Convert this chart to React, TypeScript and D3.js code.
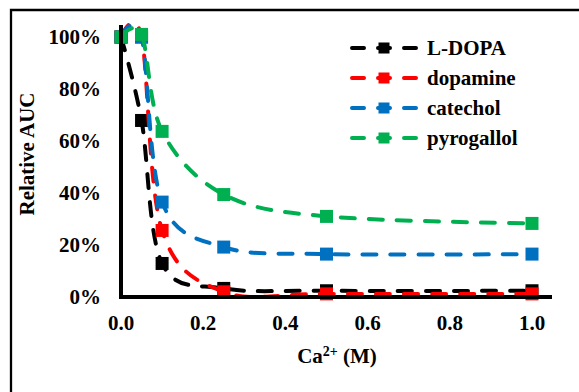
import React from "react";
import * as d3 from "d3";

const concentrations = [0, 0.05, 0.1, 0.25, 0.5, 1.0];
const ldopa = [1.0, 0.679, 0.129, 0.033, 0.024, 0.024];
const dopamine = [1.0, 1.0, 0.256, 0.02, 0.012, 0.012];
const catechol = [1.0, 1.0, 0.365, 0.192, 0.165, 0.165];
const pyrogallol = [1.0, 1.01, 0.637, 0.394, 0.31, 0.283];
const seriesNames = ["L-DOPA", "dopamine", "catechol", "pyrogallol"];
const seriesColors = ["#000000", "#ff0000", "#0070c0", "#00b050"];
const xTicks = [0, 0.2, 0.4, 0.6, 0.8, 1.0];
const yTicks = [0, 0.2, 0.4, 0.6, 0.8, 1.0];

const FONT = "'Liberation Serif', 'Times New Roman', serif";

export default function App() {
  const W = 579;
  const H = 392;
  const x = d3.scaleLinear().domain([0, 1]).range([121, 532]);
  const y = d3.scaleLinear().domain([0, 1]).range([297, 37]);
  const allSeries = [ldopa, dopamine, catechol, pyrogallol];
  const line = d3
    .line<number>()
    .x((_, i) => x(concentrations[i]))
    .y((d) => y(d))
    .curve(d3.curveCardinal.tension(0));
  const ms = 13;
  const lms = 11;
  return (
    <svg
      width={W}
      height={H}
      style={{ position: "absolute", left: 0, top: 0 }}
      fontFamily={FONT}
      fontWeight="bold"
    >
      <rect x={0} y={0} width={W} height={H} fill="#fff" />
      <path d={`M11,${H + 5} L11,10 L${W + 5},10`} fill="none" stroke="#000" strokeWidth={2.3} />
      {/* series */}
      {allSeries.map((s, si) => (
        <g key={si}>
          <path
            d={line(s) || ""}
            fill="none"
            stroke={seriesColors[si]}
            strokeWidth={4}
            strokeDasharray="14 14"
            strokeLinecap="round"
          />
          {s.map((v, i) => (
            <rect
              key={i}
              x={x(concentrations[i]) - ms / 2}
              y={y(v) - ms / 2}
              width={ms}
              height={ms}
              fill={seriesColors[si]}
            />
          ))}
        </g>
      ))}
      {/* axes */}
      <line x1={x(0)} x2={x(0)} y1={25} y2={299} stroke="#000" strokeWidth={4} />
      <line x1={119} x2={552} y1={y(0)} y2={y(0)} stroke="#000" strokeWidth={4} />
      {yTicks.map((t) => (
        <text key={t} x={101} y={y(t)} dy="0.35em" textAnchor="end" fontSize={21}>
          {d3.format(".0%")(t)}
        </text>
      ))}
      {xTicks.map((t) => (
        <text key={t} x={x(t)} y={330} textAnchor="middle" fontSize={21}>
          {d3.format(".1f")(t)}
        </text>
      ))}
      <text transform="translate(34,154) rotate(-90)" textAnchor="middle" fontSize={21}>
        Relative AUC
      </text>
      <text x={337} y={363} textAnchor="middle" fontSize={21}>
        Ca
        <tspan fontSize={14} dy={-7}>
          2+
        </tspan>
        <tspan dy={7}> (M)</tspan>
      </text>
      {/* legend */}
      {seriesNames.map((n, i) => {
        const ly = 48 + i * 30;
        return (
          <g key={n}>
            <line
              x1={352}
              x2={420}
              y1={ly}
              y2={ly}
              stroke={seriesColors[i]}
              strokeWidth={4}
              strokeDasharray="12 14"
              strokeLinecap="round"
            />
            <rect x={384 - lms / 2} y={ly - lms / 2} width={lms} height={lms} fill={seriesColors[i]} />
            <text x={427} y={ly + 7} fontSize={21}>
              {n}
            </text>
          </g>
        );
      })}
    </svg>
  );
}
